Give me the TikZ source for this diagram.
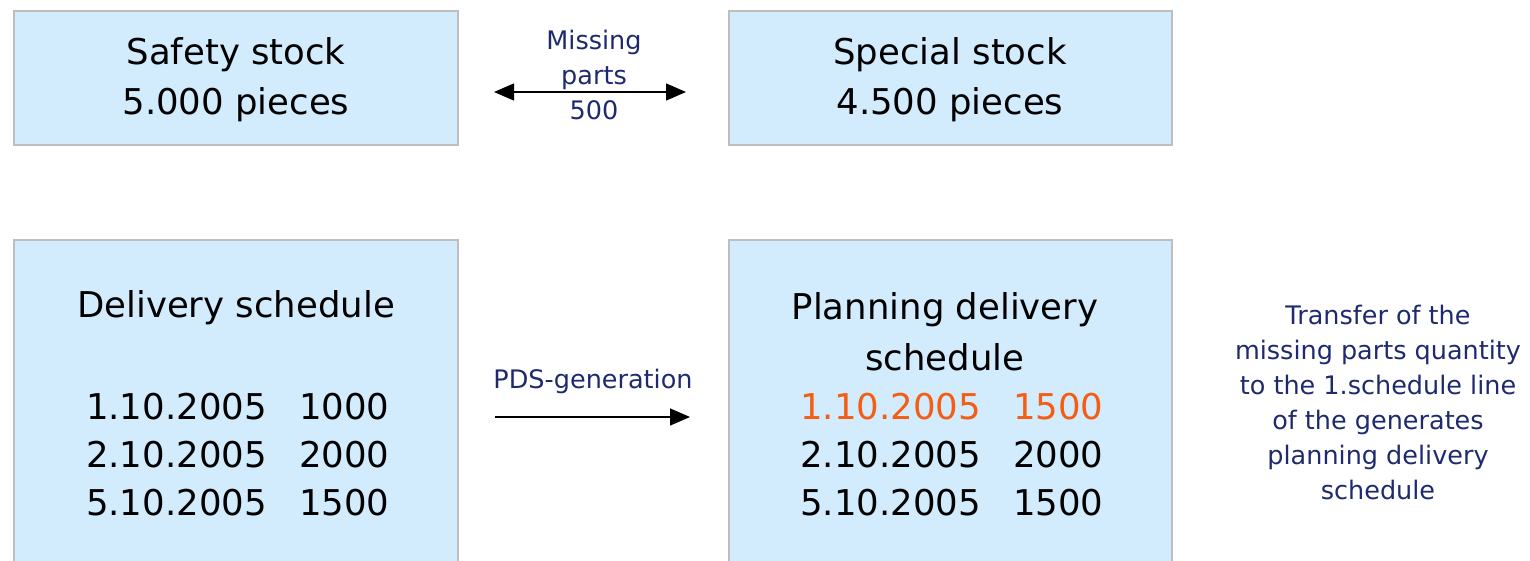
\documentclass[tikz,border=0pt]{standalone}
\usepackage{fontspec}
\setmainfont{DejaVu Sans}
\usetikzlibrary{arrows.meta}
\definecolor{boxfill}{RGB}{210,236,253}
\definecolor{boxline}{RGB}{190,190,190}
\definecolor{navy}{RGB}{31,42,110}
\definecolor{hiorange}{RGB}{243,93,20}
\tikzset{
  stockbox/.style={draw=boxline, line width=1.5pt, fill=boxfill},
  bigtext/.style={font=\fontsize{35.5}{49}\selectfont, inner sep=0pt, anchor=center},
  smalltext/.style={font=\fontsize{25.5}{35}\selectfont, text=navy, inner sep=0pt, align=center},
  conn/.style={line width=1.4pt, -{Triangle[length=20pt,width=17pt]}},
  dconn/.style={line width=1.4pt, {Triangle[length=20pt,width=17pt]}-{Triangle[length=20pt,width=17pt]}}
}
\begin{document}
\begin{tikzpicture}[x=1pt,y=1pt]
\useasboundingbox (0,0) rectangle (1530,-561);
\clip (0,0) rectangle (1530,-561);
% boxes
\draw[stockbox] (14,-11) rectangle (458,-145);
\draw[stockbox] (729,-11) rectangle (1172,-145);
\draw[stockbox] (14,-240) rectangle (458,-590);
\draw[stockbox] (729,-240) rectangle (1172,-590);
% top-left text
\node[bigtext] (ss1) at (236,-55) {Safety stock};
\node[bigtext] (ss2) at (236,-105) {5.000 pieces};
% top-right text
\node[bigtext] (sp1) at (950,-55) {Special stock};
\node[bigtext] (sp2) at (950,-105) {4.500 pieces};
% bottom-left text
\node[bigtext] (ds) at (236,-308) {Delivery schedule};
\node[bigtext, anchor=east] (d1) at (267,-407) {1.10.2005};
\node[bigtext, anchor=west] (n1) at (299,-407) {1000};
\node[bigtext, anchor=east] (d2) at (267,-455) {2.10.2005};
\node[bigtext, anchor=west] (n2) at (299,-455) {2000};
\node[bigtext, anchor=east] (d3) at (267,-503) {5.10.2005};
\node[bigtext, anchor=west] (n3) at (299,-503) {1500};
% bottom-right text
\node[bigtext] (pd1) at (945,-310) {Planning delivery};
\node[bigtext] (pd2) at (945,-357) {schedule};
\node[bigtext, anchor=east, text=hiorange] (e1) at (981,-407) {1.10.2005};
\node[bigtext, anchor=west, text=hiorange] (m1) at (1013,-407) {1500};
\node[bigtext, anchor=east] (e2) at (981,-455) {2.10.2005};
\node[bigtext, anchor=west] (m2) at (1013,-455) {2000};
\node[bigtext, anchor=east] (e3) at (981,-503) {5.10.2005};
\node[bigtext, anchor=west] (m3) at (1013,-503) {1500};
% connectors
\coordinate (al) at (494,-92);
\coordinate (ar) at (686,-92);
\draw[dconn] (al) -- (ar);
\node[smalltext] (mp) at (594,-75) {Missing\\parts\\500};
\coordinate (bl) at (495,-417);
\coordinate (br) at (690,-417);
\draw[conn] (bl) -- (br);
\node[smalltext] (pds) at (593,-381) {PDS-generation};
% right note
\node[smalltext] (note) at (1378,-402) {Transfer of the\\missing parts quantity\\to the 1.schedule line\\of the generates\\planning delivery\\schedule};
\end{tikzpicture}
\end{document}
